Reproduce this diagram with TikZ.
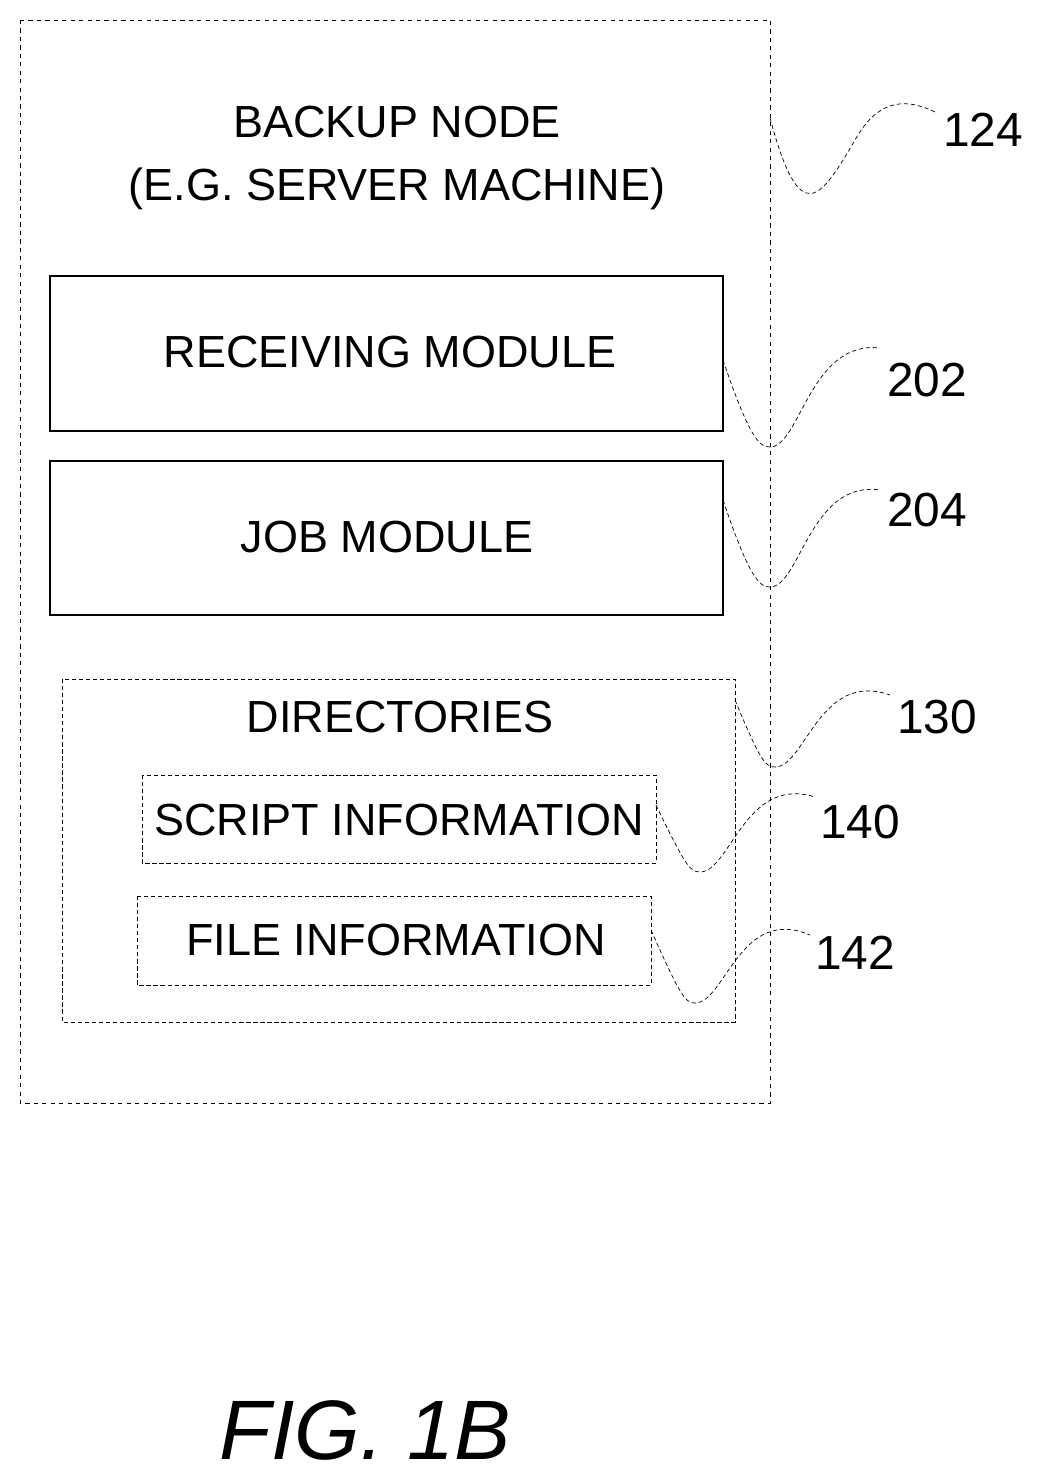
\documentclass[tikz,border=0pt]{standalone}
\usepackage{fontspec}
\setmainfont{Liberation Sans}
\usetikzlibrary{positioning}
\tikzset{
  outer/.style={draw=black, dashed, line width=0.6pt},
  box/.style={draw=black, line width=0.8pt},
  dbox/.style={draw=black, densely dashed, line width=0.6pt},
  lead/.style={draw=black, densely dashed, line width=0.5pt},
  lab/.style={font=\fontsize{32}{45}\selectfont, align=center, inner sep=0pt},
  num/.style={font=\fontsize{34}{40}\selectfont, inner sep=0pt},
}
\begin{document}
\begin{tikzpicture}[x=0.025cm, y=-0.025cm]
\useasboundingbox (0,0) rectangle (1037,1480);

% boxes
\draw[outer] (20,20) rectangle (770,1103);
\draw[box] (50,276) rectangle (723,431);
\draw[box] (50,461) rectangle (723,615);
\draw[dbox] (62,679) rectangle (735,1022);
\draw[dbox] (142,775) rectangle (656,863);
\draw[dbox] (137,896) rectangle (651,985);

% texts
\node[lab] (node) at (397,158) {BACKUP NODE\\(E.G. SERVER MACHINE)};
\node[lab] (recv) at (390,352) {RECEIVING MODULE};
\node[lab] (job) at (387,537) {JOB MODULE};
\node[lab] (dirs) at (400,717) {DIRECTORIES};
\node[lab] (script) at (399,820) {SCRIPT INFORMATION};
\node[lab] (file) at (396,940) {FILE INFORMATION};

% reference numbers
\node[num] (n124) at (983,130) {124};
\node[num] (n202) at (927,380) {202};
\node[num] (n204) at (927,510) {204};
\node[num] (n130) at (937,717) {130};
\node[num] (n140) at (860,822) {140};
\node[num] (n142) at (855,953) {142};

% leaders
\coordinate (s124) at (770,118);
\coordinate (s202) at (723,360);
\coordinate (s204) at (723,500);
\coordinate (s130) at (735,700);
\coordinate (s140) at (656,805);
\coordinate (s142) at (651,930);
\draw[lead] (s124) .. controls (800,230) and (820,200) .. (855,140) .. controls (880,95) and (910,100) .. (935,112);
\draw[lead] (s202) .. controls (750,440) and (760,447) .. (770,447) .. controls (800,447) and (810,340) .. (880,348);
\draw[lead] (s204) .. controls (750,580) and (760,587) .. (770,587) .. controls (800,587) and (810,480) .. (880,490);
\draw[lead] (s130) .. controls (760,760) and (765,767) .. (775,767) .. controls (805,767) and (820,670) .. (890,695);
\draw[lead] (s140) .. controls (685,865) and (690,872) .. (700,872) .. controls (730,872) and (745,775) .. (815,797);
\draw[lead] (s142) .. controls (680,995) and (685,1003) .. (695,1003) .. controls (725,1003) and (740,905) .. (810,935);

% caption
\node[font=\fontsize{60}{70}\selectfont\itshape, inner sep=0pt] (fig) at (365,1430) {FIG. 1B};
\end{tikzpicture}
\end{document}
